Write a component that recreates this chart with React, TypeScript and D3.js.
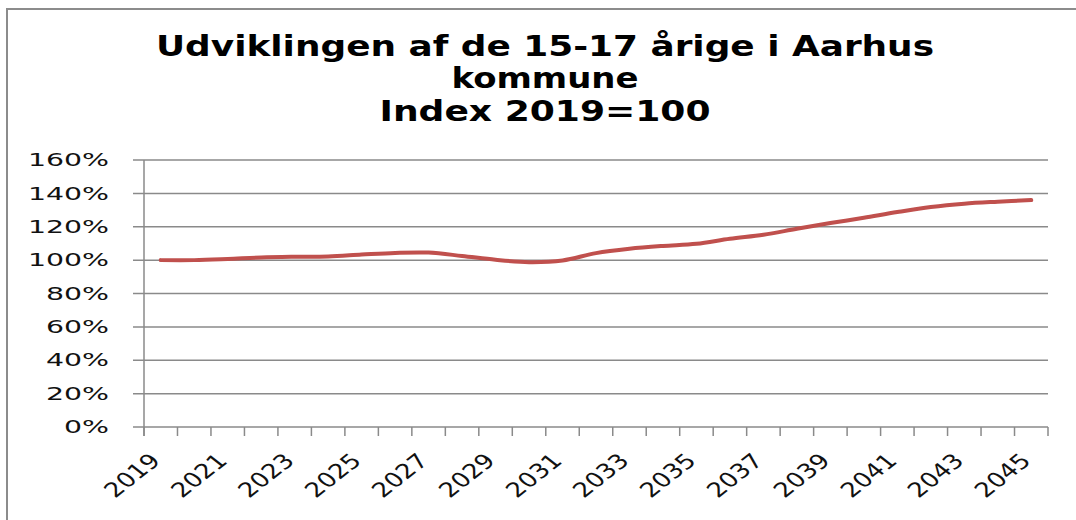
import React from "react";
import * as d3 from "d3";

const titleLines = ["Udviklingen  af de 15-17 årige i Aarhus", "kommune", "Index 2019=100"];
const years = [
  "2019", "2020", "2021", "2022", "2023", "2024", "2025", "2026", "2027", "2028",
  "2029", "2030", "2031", "2032", "2033", "2034", "2035", "2036", "2037", "2038",
  "2039", "2040", "2041", "2042", "2043", "2044", "2045",
];
const indexValues = [
  100, 100, 100.7, 101.6, 102, 102.2, 103.3, 104.3, 104.5, 102.5,
  100.2, 98.8, 99.8, 104.2, 106.8, 108.5, 109.8, 112.8, 115.2, 118.8,
  122.2, 125.4, 128.8, 131.8, 133.8, 135, 136,
];
const yTicks = [0, 20, 40, 60, 80, 100, 120, 140, 160];

const W = 1076;
const H = 520;
const plot = { left: 144, right: 1048, top: 160, bottom: 427 };

export default function App() {
  const x = d3.scaleBand<string>().domain(years).range([plot.left, plot.right]).padding(0);
  const y = d3.scaleLinear().domain([0, 160]).range([plot.bottom, plot.top]);
  const cx = (yr: string) => (x(yr) as number) + x.bandwidth() / 2;

  const line = d3
    .line<number>()
    .x((_, i) => cx(years[i]))
    .y((v) => y(v))
    .curve(d3.curveCatmullRom.alpha(0.5));

  const grid = "#8a8a8a";
  const boundaries = d3.range(years.length + 1).map((i) => plot.left + i * x.bandwidth());
  const titleWidths = [778, 187, 331];
  const titleBase = [56, 88, 121];

  return (
    <svg
      width={W}
      height={H}
      style={{ position: "absolute", left: 0, top: 0, background: "#fff" }}
      fontFamily="'DejaVu Sans', Verdana, sans-serif"
    >
      <rect x={0} y={0} width={W} height={H} fill="#fff" />
      {/* chart border */}
      <line x1={6} x2={W} y1={9} y2={9} stroke="#8c8c8c" strokeWidth={2} />
      <line x1={7} x2={7} y1={8} y2={H} stroke="#8c8c8c" strokeWidth={2} />

      {/* title */}
      {titleLines.map((t, i) => (
        <text
          key={i}
          x={545}
          y={titleBase[i]}
          textAnchor="middle"
          fontWeight="bold"
          fontSize={28}
          textLength={titleWidths[i]}
          lengthAdjust="spacingAndGlyphs"
          fill="#000"
        >
          {t}
        </text>
      ))}

      {/* gridlines + y ticks */}
      {yTicks.map((t) => (
        <g key={t}>
          <line x1={133} x2={plot.right} y1={y(t)} y2={y(t)} stroke={grid} strokeWidth={1.5} />
          <text
            transform={`translate(109,${y(t)}) scale(1.67,1)`}
            dy="0.36em"
            textAnchor="end"
            fontSize={17}
            fill="#111"
          >
            {t}%
          </text>
        </g>
      ))}

      {/* y axis */}
      <line x1={plot.left} x2={plot.left} y1={plot.top} y2={436} stroke={grid} strokeWidth={1.5} />
      {/* x axis ticks */}
      {boundaries.map((b, i) => (
        <line key={i} x1={b} x2={b} y1={plot.bottom} y2={436} stroke={grid} strokeWidth={1.5} />
      ))}

      {/* x labels */}
      {years.map((yr, i) =>
        i % 2 === 0 ? (
          <text
            key={yr}
            transform={`translate(${cx(yr) + 1},462) scale(1.53,1.2) rotate(-45)`}
            textAnchor="end"
            fontSize={17}
            fill="#111"
          >
            {yr}
          </text>
        ) : null
      )}

      {/* series */}
      <path
        d={line(indexValues) || ""}
        fill="none"
        stroke="#C0504D"
        strokeWidth={4}
        strokeLinecap="round"
        strokeLinejoin="round"
      />
    </svg>
  );
}
